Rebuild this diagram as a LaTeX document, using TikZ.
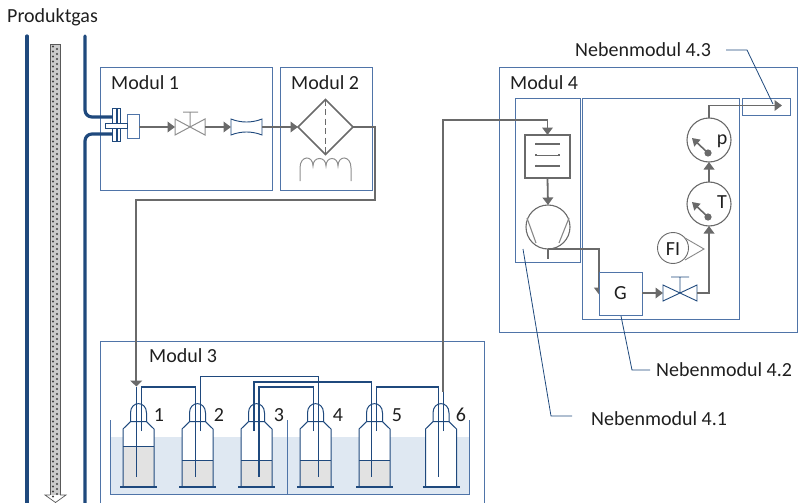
\documentclass[tikz,border=0pt]{standalone}
\usepackage{fontspec}
\setmainfont{Carlito}
\usetikzlibrary{arrows.meta,shapes.geometric}
\definecolor{bl}{HTML}{1F497D}
\definecolor{frame}{HTML}{4F74A8}
\definecolor{gr}{HTML}{6A6A6A}
\definecolor{wat}{HTML}{DFE8F2}
\definecolor{liq}{HTML}{E2E2E2}
\tikzset{
 modbox/.style={draw=frame,line width=0.9pt,fill=none,rectangle,inner sep=0pt,outer sep=0pt},
 txt/.style={font=\fontsize{20}{22}\selectfont,inner sep=0pt,text=black!88},
 lbl/.style={txt,anchor=base west},
 flow/.style={draw=gr,line width=1.8pt,-{Triangle[length=7.5pt,width=10.5pt]}},
 pipe/.style={draw=gr,line width=1.8pt},
 thin gray/.style={draw=gr!80,line width=1pt},
 tube/.style={draw=bl,line width=1.2pt},
 big/.style={draw=bl,line width=3.2pt,rounded corners=7pt,line cap=round},
 lead/.style={draw=bl,line width=0.8pt},
 gauge/.style={circle,draw=gr,line width=1.1pt,fill=white,minimum size=44pt,inner sep=0pt,outer sep=0pt},
}
\begin{document}
\begin{tikzpicture}[x=1pt,y=-1pt]
\useasboundingbox (0,0) rectangle (801,503);
% labels
\node[lbl] (prod) at (7,23) {Produktgas};
\node[lbl] (lm1) at (111,89) {Modul 1};
\node[lbl] (lm2) at (291,89) {Modul 2};
\node[lbl] (lm3) at (149,362) {Modul 3};
\node[lbl] (lm4) at (510,89) {Modul 4};
\node[lbl] (l43) at (575,57) {Nebenmodul 4.3};
\node[lbl] (l42) at (656,376) {Nebenmodul 4.2};
\node[lbl] (l41) at (591,425) {Nebenmodul 4.1};
% modules
\node[modbox,minimum width=172pt,minimum height=123pt] (m1) at (186,128.5) {};
\node[modbox,minimum width=92pt,minimum height=123pt] (m2) at (326,128.5) {};
\node[modbox,minimum width=298pt,minimum height=265pt] (m4) at (648,199.5) {};
\node[modbox,minimum width=65pt,minimum height=164pt] (n41) at (547.5,180) {};
\node[modbox,minimum width=157pt,minimum height=221pt] (n42) at (660.5,208.5) {};
\node[modbox,minimum width=48pt,minimum height=17pt] (n43) at (766,106.5) {};
\draw[modbox] (100,503.5) |- (484,341.5) -- (484,503.5);
% big pipes
\coordinate (fu) at (113,117);
\coordinate (fl) at (113,134);
\draw[big] (27,36) -- (27,504);
\draw[big] (85,36) |- (fu);
\draw[big] (85,504) |- (fl);
% stripe
\fill[gray!40] (50,44) rectangle (60,495);
\draw[gray!70!black,line width=.5pt] (50,44) rectangle (60,495);
\draw[gray!70!black,line width=.7pt,fill=white] (50,495) -- (45,495) -- (55.5,502.5) -- (66,495) -- (60,495);
\foreach \i in {0,...,180}{
 \pgfmathsetmacro{\dx}{mod(\i,2)==0 ? 53 : 57}
 \fill[black!75] (\dx,{46.5+\i*2.5}) circle (1.05pt);
}
% flange
\node[draw=bl,fill=white,line width=.8pt,minimum width=3.5pt,minimum height=33pt,inner sep=0,outer sep=0] (fa) at (114.5,124.5) {};
\node[draw=bl,fill=white,line width=.8pt,minimum width=3.5pt,minimum height=33pt,inner sep=0,outer sep=0] (fb) at (118.8,124.5) {};
\node[draw=frame,fill=white,line width=.8pt,minimum width=12pt,minimum height=24pt,inner sep=0,outer sep=0] (sens) at (133,126) {};
\node[draw=bl,fill=white,line width=.8pt,minimum width=21.5pt,minimum height=4.5pt,inner sep=0,outer sep=0] (rod) at (116.3,126) {};
% valve 1
\coordinate (v1) at (190,127);
\coordinate (v1l) at (175,127);
\coordinate (v1r) at (205,127);
\draw[thin gray,draw=gr!75] (175,119) -- (205,135) -- (205,119) -- (175,135) -- cycle (190,127) -- (190,112) (183,112) -- (198,112);
% venturi
\coordinate (vel) at (231,127);
\coordinate (ver) at (262,127);
\draw[draw=bl,line width=.9pt,fill=white] (231,119) .. controls (241,123) and (252,123) .. (262,119) -- (262,135) .. controls (252,131) and (241,131) .. (231,135) -- cycle;
% filter
\node[diamond,draw=gr,line width=1.5pt,minimum width=55pt,minimum height=55pt,inner sep=0,outer sep=0] (fil) at (325.5,127) {};
\draw[draw=gr,line width=1.4pt,dash pattern=on 6pt off 3.5pt] (fil.north) -- (fil.south);
% coil
\draw[thin gray,draw=gr!75] (300,181) -- (300,168) .. controls (300,155) and (313,155) .. (313,166)
 .. controls (313,156) and (326,156) .. (326,166) .. controls (326,156) and (338,156) .. (338,166)
 .. controls (338,155) and (351,155) .. (351,168) -- (351,181);
% flows upper left
\draw[flow] (sens.east |- 0,127) -- (v1l);
\draw[flow] (v1r) -- (vel);
\draw[flow] (ver) -- (fil.west);
\coordinate (gasin) at (136.3,386.5);
\draw[flow,-{Triangle[length=6pt,width=12pt]}] (fil.east) -- (375,127) |- (136.3,200) -- (gasin);
% water
\fill[wat] (111,437) rectangle (469,494);
\draw[draw=frame,line width=1pt] (110.5,420) |- (469,494.5) -- (469,420) (287,420) -- (287,494.5);
% bottles
\foreach \n/\c/\lev in {1/138.5/446.7,2/197.5/460,3/256.5/460,4/315.5/460,5/374.5/460,6/441/487}{
 \begin{scope}[xshift=\c pt]
 \fill[white] (-15.5,487) -- (-15.5,429) -- (-8,421.7) -- (8,421.7) -- (15.5,429) -- (15.5,487) -- cycle;
 \fill[liq] (-15.5,\lev) rectangle (15.5,487);
 \draw[draw=bl,line width=.9pt] (-15.5,\lev) -- (15.5,\lev);
 \draw[draw=bl,line width=1pt] (-15.5,487) -- (-15.5,429) -- (-8,421.7) -- (8,421.7) -- (15.5,429) -- (15.5,487);
 \draw[draw=bl,line width=2.2pt] (-18.5,487) -- (18.5,487);
 \draw[draw=bl,line width=1pt] (-8,421.7) -- (-8,413) .. controls (-8,400.5) and (8,400.5) .. (8,413) -- (8,421.7);
 \end{scope}
}
% numbers
\foreach \n/\x in {1/159,2/219,3/279,4/338,5/397,6/461}{
 \node[txt] (num\n) at (\x,415) {\n};
}
% tubes
\draw[tube] (136.3,476.7) -- (gasin);
\draw[tube] (141.7,431) |- (195.3,387) -- (195.3,476.7);
\draw[tube] (200.3,431) |- (318.3,376.7) -- (318.3,476.7);
\draw[tube] (313.3,431) |- (259,387) -- (259,476.7);
\draw[tube] (254,431) |- (371.7,382) -- (371.7,476.7);
\draw[tube] (376.7,431) |- (438.3,387) -- (438.3,476.7);
\coordinate (b6top) at (443.3,392);
\draw[tube] (443.3,431) -- (b6top);
% Modul 4 contents
\node[draw=gr,line width=1.5pt,fill=white,minimum width=45pt,minimum height=43pt,inner sep=0,outer sep=0] (kond) at (547.5,156.5) {};
\foreach \y in {144,155.5,166}{
 \draw[draw=gr,line width=1.4pt] (536,\y-1.5) -- (536,\y) -- (559,\y) -- (559,\y-1.5);
}
\node[gauge] (pump) at (548,227) {};
\draw[thin gray,line width=1.1pt] (527,218) -- (536,243) (569,218) -- (559,243);
\draw[flow] (b6top) -- (443.3,120) -| (kond.north);
\draw[flow] (kond.south) -- (pump.north);
\coordinate (pout) at (548,259);
\draw[pipe] (pump.south) -- (pout);
\coordinate (gin) at (599,294.5);
\draw[pipe,-{Triangle[length=7pt,width=10pt]}] (pump.south) -| (gin);
\node[modbox,fill=white,minimum width=43pt,minimum height=43pt] (g) at (620.5,293.5) {};
\node[txt] (gt) at (620.5,293) {G};
% valve 2
\coordinate (v2l) at (663,293);
\coordinate (v2r) at (697,293);
\draw[draw=bl,line width=.9pt] (663,285) -- (697,301) -- (697,285) -- (663,301) -- cycle (680,293) -- (680,277) (671,277) -- (689,277);
\draw[flow] (g.east |- v2l) -- (v2l);
\node[gauge] (t) at (709,204) {};
\node[gauge] (p) at (709,140) {};
\draw[flow] (v2r) -- (709,293) -- (t.south);
\draw[flow] (t.north) -- (p.south);
\coordinate (pe) at (782,105.5);
\draw[flow] (p.north) |- (pe);
% FI
\node[circle,draw=gr,line width=.9pt,fill=white,minimum size=31pt,inner sep=0,outer sep=0] (fi) at (673,248) {};
\coordinate (fit) at (704,249);
\draw[thin gray,line width=.9pt] (685,238) -- (fit) -- (685,260);
\node[txt] (fit2) at (673,249) {FI};
% needles
\foreach \c in {t,p}{
 \fill[gr] ([shift={(-1,13)}]\c.center) circle (3.6pt);
 \draw[draw=gr,line width=1.6pt,-{Triangle[length=7.5pt,width=9pt]}] ([shift={(-1,13)}]\c.center) -- ([shift={(-17,-2)}]\c.center);
}
\node[txt] (pl) at (722,141) {p};
\node[txt] (tl) at (722,202) {T};
% leader lines
\coordinate (a43) at (726,50);
\coordinate (a43b) at (747,50);
\coordinate (a43c) at (773,104);
\draw[lead] (a43) -- (a43b) -- (a43c);
\coordinate (a41) at (523,249);
\coordinate (a41b) at (551,416);
\coordinate (a41c) at (572,416);
\draw[lead] (a41) -- (a41b) -- (a41c);
\coordinate (a42) at (621,316);
\coordinate (a42b) at (632,370);
\coordinate (a42c) at (650,370);
\draw[lead] (a42) -- (a42b) -- (a42c);
\end{tikzpicture}
\end{document}
